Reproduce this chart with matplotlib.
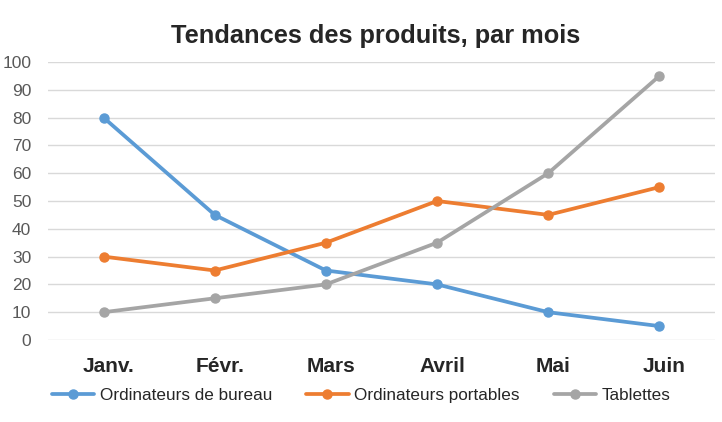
import matplotlib
matplotlib.use("Agg")
import matplotlib.pyplot as plt
import matplotlib.transforms as mtransforms

months = ["Janv.", "Févr.", "Mars", "Avril", "Mai", "Juin"]
bureau = [80, 45, 25, 20, 10, 5]
portables = [30, 25, 35, 50, 45, 55]
tablettes = [10, 15, 20, 35, 60, 95]
series_names = ["Ordinateurs de bureau", "Ordinateurs portables", "Tablettes"]
colors = ["#5B9BD5", "#ED7D31", "#A5A5A5"]
yticks = list(range(0, 101, 10))

plt.rcParams['font.family'] = ['Liberation Sans', 'DejaVu Sans']

fig = plt.figure(figsize=(7.22, 4.22), dpi=100)
ax = fig.add_axes([48/722, 1-340/422, 667/722, 278/422])

x = list(range(len(months)))
for vals, name, c in zip([bureau, portables, tablettes], series_names, colors):
    ax.plot(x, vals, color=c, lw=2.7, marker='o', ms=6.5, label=name,
            solid_capstyle='round', zorder=3)

ax.set_xlim(-0.5, len(months) - 0.5)
ax.set_ylim(0, 100)
ax.set_yticks(yticks)
ax.set_yticklabels([str(v) for v in yticks], fontsize=12.5, color="#595959")
ax.set_xticks(x)
ax.set_xticklabels(months, fontsize=15, fontweight='bold', color="#262626")
ax.tick_params(axis='both', length=0)
ax.tick_params(axis='y', pad=12)
ax.tick_params(axis='x', pad=12)
offset = mtransforms.ScaledTranslation(5/100, 0, fig.dpi_scale_trans)
for lbl in ax.get_xticklabels():
    lbl.set_transform(lbl.get_transform() + offset)
ax.grid(axis='y', color="#D9D9D9", lw=1)
ax.set_axisbelow(True)
for s in ax.spines.values():
    s.set_visible(False)

fig.text(376/722, 1-36/422, "Tendances des produits, par mois", ha='center', va='center',
         fontsize=18.3, fontweight='bold', color="#262626")

leg = fig.legend(loc='center', bbox_to_anchor=(0.5, 1-395.4/422), ncol=3, frameon=False,
                 fontsize=12.3, handlelength=2.5, columnspacing=2.0, handletextpad=0.3,
                 labelcolor="#262626")

fig.savefig("out.png", dpi=100)
